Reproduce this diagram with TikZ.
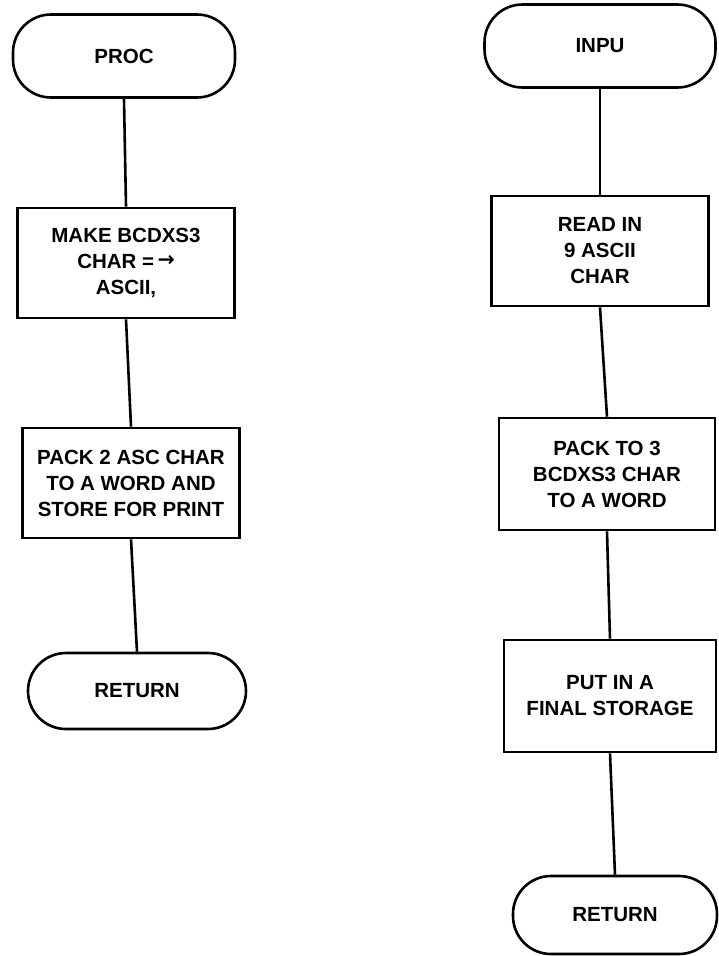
\documentclass[tikz,border=0pt]{standalone}
\usepackage{fontspec}
\setmainfont{Liberation Sans}
\newfontfamily\arrowfont{DejaVu Sans}
\usetikzlibrary{shapes.misc}
\begin{document}
\begin{tikzpicture}[x=1pt,y=-1pt,
  base/.style={draw=black, line width=2.6pt, align=center, inner sep=0pt,
    font=\bfseries\fontsize{20.5}{26}\selectfont},
  term/.style={base, rounded corners=38pt},
  procbox/.style={base},
  link/.style={line width=2.6pt}]
\useasboundingbox (0,0) rectangle (719,956);
% left column
\node[term, minimum width=222pt, minimum height=83pt] (proc) at (124,56) {PROC};
\node[procbox, minimum width=217pt, minimum height=110pt] (b1) at (126,263)
  {MAKE BCDXS3\\CHAR =\,{\arrowfont\bfseries\raisebox{2pt}{→}}\\ASCII,};
\node[procbox, minimum width=217pt, minimum height=110pt] (b2) at (131,483)
  {PACK 2 ASC CHAR\\TO A WORD AND\\STORE FOR PRINT};
\node[term, minimum width=218pt, minimum height=76pt] (r1) at (137,691) {RETURN};
% right column
\node[term, minimum width=231pt, minimum height=83pt] (inpu) at (600,46) {INPU};
\node[procbox, minimum width=217pt, minimum height=110pt] (b3) at (600,251)
  {READ IN\\9 ASCII\\CHAR};
\node[procbox, minimum width=216pt, minimum height=112pt] (b4) at (607,474)
  {PACK TO 3\\BCDXS3 CHAR\\TO A WORD};
\node[procbox, minimum width=212pt, minimum height=112pt] (b5) at (610,696)
  {PUT IN A\\FINAL STORAGE};
\node[term, minimum width=204pt, minimum height=78pt] (r2) at (615,915) {RETURN};
% connectors
\draw[link] (proc.south) -- (b1.north);
\draw[link] (b1.south) -- (b2.north);
\draw[link] (b2.south) -- (r1.north);
\draw[link] (inpu.south) -- (b3.north);
\draw[link] (b3.south) -- (b4.north);
\draw[link] (b4.south) -- (b5.north);
\draw[link] (b5.south) -- (r2.north);
\end{tikzpicture}
\end{document}
